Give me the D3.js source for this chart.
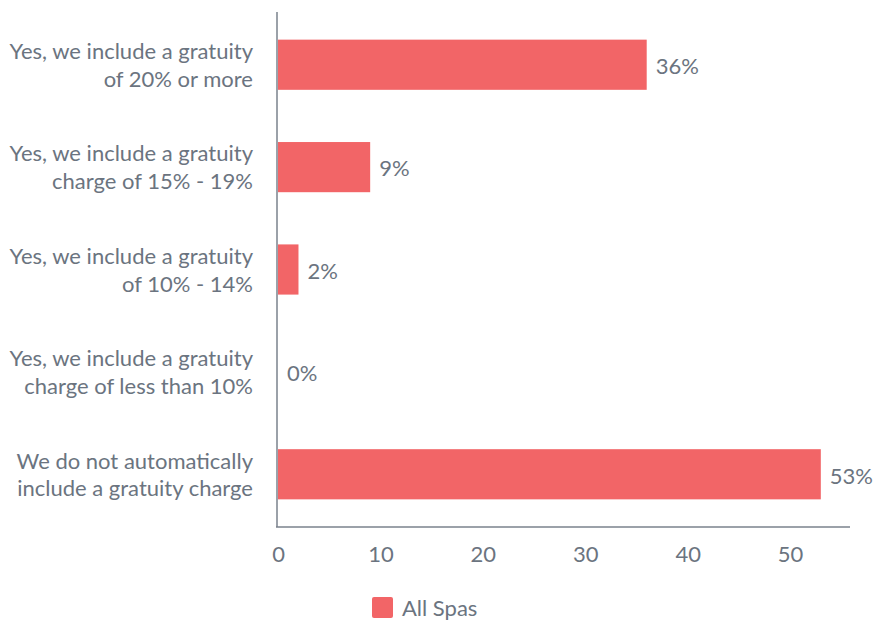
<!DOCTYPE html>
<html>
<head>
<meta charset="utf-8">
<script src="https://cdn.jsdelivr.net/npm/d3@7/dist/d3.min.js"></script>
<style>
  html, body { margin: 0; padding: 0; background: #fff; }
  svg { display: block; font-family: Lato, "Open Sans", sans-serif; }
</style>
</head>
<body>
<svg id="chart" width="876" height="620"></svg>
<script>
// Gratuity policy survey, share of spas (%)
const categories = [
  ["Yes, we include a gratuity", "of 20% or more"],
  ["Yes, we include a gratuity", "charge of 15% - 19%"],
  ["Yes, we include a gratuity", "of 10% - 14%"],
  ["Yes, we include a gratuity", "charge of less than 10%"],
  ["We do not automatically", "include a gratuity charge"]
];
const allSpas = [36, 9, 2, 0, 53];
const xTicks = [0, 10, 20, 30, 40, 50];
const seriesName = "All Spas";

const barColor = "#f26567";
const textColor = "#6b7480";
const axisColor = "#7a828c";
const fontSize = "22px";

const svg = d3.select("#chart");
const plotLeft = 278, plotRight = 850, plotTop = 12, plotBottom = 527;

const x = d3.scaleLinear().domain([0, 55.85]).range([plotLeft, plotRight]);
const y = d3.scaleBand()
  .domain(d3.range(categories.length))
  .range([plotTop, plotBottom])
  .paddingInner(0.51)
  .paddingOuter(0.27);

// bars
svg.append("g").selectAll("rect")
  .data(allSpas)
  .join("rect")
  .attr("x", x(0))
  .attr("y", (d, i) => y(i))
  .attr("width", d => x(d) - x(0))
  .attr("height", y.bandwidth())
  .attr("fill", barColor);

// value labels
svg.append("g").selectAll("text")
  .data(allSpas)
  .join("text")
  .attr("x", d => x(d) + 9)
  .attr("y", (d, i) => y(i) + y.bandwidth() / 2)
  .attr("dy", "0.42em")
  .attr("fill", textColor)
  .style("font-size", fontSize)
  .text(d => d + "%");

// category labels
const catG = svg.append("g");
categories.forEach((lines, i) => {
  const t = catG.append("text")
    .attr("text-anchor", "end")
    .attr("fill", textColor)
    .style("font-size", fontSize)
    .attr("x", plotLeft - 25)
    .attr("y", y(i) + y.bandwidth() / 2);
  lines.forEach((ln, j) => {
    t.append("tspan")
      .attr("x", plotLeft - 25)
      .attr("dy", j === 0 ? "-0.26em" : "1.27em")
      .text(ln);
  });
});

// x axis
const xAxis = svg.append("g")
  .attr("transform", `translate(0,${plotBottom})`)
  .call(d3.axisBottom(x).tickValues(xTicks).tickSize(0).tickPadding(19));
xAxis.select(".domain").attr("stroke", axisColor).attr("stroke-width", 1.5)
  .attr("d", `M${plotLeft - 2},0H${plotRight}`);
xAxis.selectAll("text")
  .attr("fill", textColor)
  .style("font-size", fontSize)
  .style("font-family", "Lato, 'Open Sans', sans-serif");

// y axis line
svg.append("line")
  .attr("x1", plotLeft - 1).attr("x2", plotLeft - 1)
  .attr("y1", plotTop).attr("y2", plotBottom)
  .attr("stroke", axisColor).attr("stroke-width", 1.5);

// legend
const lg = svg.append("g").attr("transform", "translate(372,597)");
lg.append("rect").attr("width", 21).attr("height", 21).attr("rx", 2).attr("fill", barColor);
lg.append("text").attr("x", 30).attr("y", 11).attr("dy", "0.35em")
  .attr("fill", textColor).style("font-size", fontSize).text(seriesName);
</script>
</body>
</html>
